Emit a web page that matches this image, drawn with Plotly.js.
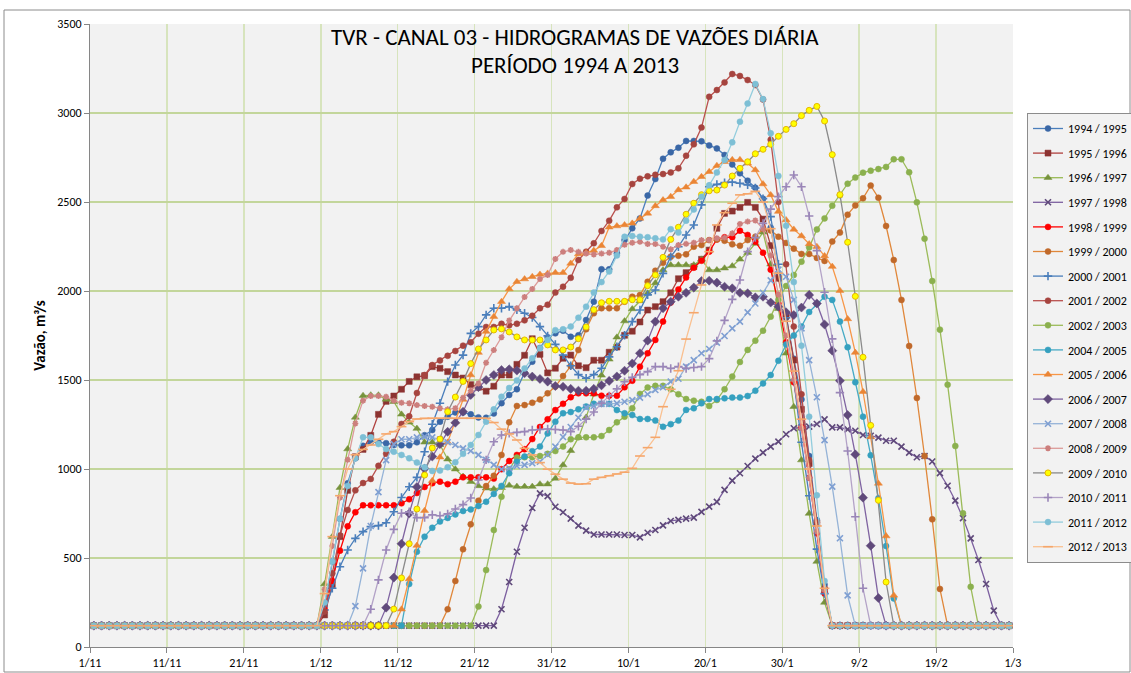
<!DOCTYPE html>
<html><head><meta charset="utf-8">
<script src="https://cdn.plot.ly/plotly-3.0.1.min.js"></script>
<style>html,body{margin:0;padding:0;background:#fff}#chart{width:1131px;height:673px}</style>
</head><body><div id="chart"></div>
<script>
const seriesNames = ['1994 / 1995','1995 / 1996','1996 / 1997','1997 / 1998','1998 / 1999','1999 / 2000','2000 / 2001','2001 / 2002','2002 / 2003','2004 / 2005','2005 / 2006','2006 / 2007','2007 / 2008','2008 / 2009','2009 / 2010','2010 / 2011','2011 / 2012','2012 / 2013'];
const tickLabels = ['1/11','11/11','21/11','1/12','11/12','21/12','31/12','10/1','20/1','30/1','9/2','19/2','1/3'];
const titleLines = ['TVR - CANAL 03 - HIDROGRAMAS DE VAZÕES DIÁRIA','PERÍODO 1994 A 2013'];

const q1994 = [120,120,120,120,120,120,120,120,120,120,120,120,120,120,120,120,120,120,120,120,120,120,120,120,120,120,120,120,120,120,
230,480,720,920,1060,1130,1150,1150,1145,1135,
1133,1133,1150,1190,1219,1266,1294,1318,1318,1307,
1290,1288,1312,1370,1416,1448,1541,1603,1680,1740,
1762,1777,1743,1751,1837,1940,2122,2122,2212,2286,
2352,2408,2536,2629,2743,2779,2805,2843,2843,2841,
2818,2801,2764,2711,2661,2620,2580,2518,2356,2100,
1850,1620,1391,1073,713,350,120,120,120,120,
120,120,120,120,120,120,120,120,120,120,
120,120,120,120,120,120,120,120,120,120];
const q1995 = [120,120,120,120,120,120,120,120,120,120,120,120,120,120,120,120,120,120,120,120,120,120,120,120,120,120,120,120,120,120,
180,350,620,880,1069,1110,1189,1307,1380,1410,
1448,1492,1518,1524,1575,1566,1547,1528,1511,1474,
1459,1437,1465,1528,1528,1588,1639,1732,1644,1540,
1566,1622,1640,1580,1569,1611,1611,1656,1685,1751,
1774,1826,1893,1912,1940,1990,2069,2103,2137,2178,
2230,2352,2436,2449,2470,2498,2470,2404,2255,2071,
1860,1612,1335,1030,695,320,120,120,120,120,
120,120,120,120,120,120,120,120,120,120,
120,120,120,120,120,120,120,120,120,120];
const q1996 = [120,120,120,120,120,120,120,120,120,120,120,120,120,120,120,120,120,120,120,120,120,120,120,120,120,120,120,120,120,120,
354,620,895,1112,1290,1412,1415,1415,1391,1378,
1307,1262,1227,1150,1150,1136,1055,999,958,929,
905,892,888,895,908,901,901,901,915,915,
947,1022,1103,1176,1290,1420,1526,1616,1740,1831,
1899,1944,1987,2045,2118,2146,2146,2146,2146,2178,
2118,2118,2128,2140,2178,2215,2267,2330,2150,1900,
1650,1350,1050,750,480,250,120,120,120,120,
120,120,120,120,120,120,120,120,120,120,
120,120,120,120,120,120,120,120,120,120];
const q1997 = [120,120,120,120,120,120,120,120,120,120,120,120,120,120,120,120,120,120,120,120,120,120,120,120,120,120,120,120,120,120,
120,120,120,120,120,120,120,120,120,120,
120,120,120,120,120,120,120,120,120,120,
120,120,120,212,365,535,670,781,863,848,
788,757,721,682,654,632,632,632,632,629,
629,616,642,657,683,708,714,721,727,759,
789,815,883,935,976,1017,1058,1092,1126,1154,
1195,1229,1234,1238,1253,1279,1234,1234,1223,1215,
1191,1187,1176,1159,1159,1126,1092,1066,1073,1042,
977,906,822,724,610,489,354,204,120,120];
const q1998 = [120,120,120,120,120,120,120,120,120,120,120,120,120,120,120,120,120,120,120,120,120,120,120,120,120,120,120,120,120,120,
212,371,541,678,757,796,796,796,796,796,
807,830,865,899,920,929,915,929,953,953,
953,953,946,999,1045,1079,1111,1168,1236,1279,
1331,1366,1403,1425,1425,1425,1412,1412,1412,1459,
1496,1575,1650,1725,1828,1935,2009,2076,2131,2170,
2221,2290,2302,2302,2339,2315,2277,2215,2120,1930,
1712,1487,1234,951,639,301,120,120,120,120,
120,120,120,120,120,120,120,120,120,120,
120,120,120,120,120,120,120,120,120,120];
const q1999 = [120,120,120,120,120,120,120,120,120,120,120,120,120,120,120,120,120,120,120,120,120,120,120,120,120,120,120,120,120,120,
120,120,120,120,120,120,120,120,120,120,
120,120,120,120,120,120,212,371,549,689,
822,904,962,1079,1262,1354,1359,1372,1391,1425,
1463,1522,1578,1668,1785,1875,1903,1903,1903,1940,
1968,1977,2052,2114,2159,2193,2198,2206,2249,2258,
2286,2290,2282,2262,2254,2286,2305,2349,2340,2305,
2270,2238,2208,2208,2186,2169,2278,2328,2429,2481,
2521,2592,2524,2365,2174,1950,1691,1399,1073,717,
326,120,120,120,120,120,120,120,120,120];
const q2000 = [120,120,120,120,120,120,120,120,120,120,120,120,120,120,120,120,120,120,120,120,120,120,120,120,120,120,120,120,120,120,
208,330,451,545,610,648,676,682,698,760,
840,900,953,1097,1251,1369,1491,1584,1640,1762,
1800,1866,1903,1903,1912,1894,1875,1851,1800,1748,
1700,1640,1580,1530,1510,1530,1566,1630,1687,1751,
1828,1893,1978,2006,2099,2193,2249,2315,2371,2484,
2586,2599,2609,2612,2605,2596,2579,2519,2418,2150,
1850,1500,1150,850,550,300,120,120,120,120,
120,120,120,120,120,120,120,120,120,120,
120,120,120,120,120,120,120,120,120,120];
const q2001 = [120,120,120,120,120,120,120,120,120,120,120,120,120,120,120,120,120,120,120,120,120,120,120,120,120,120,120,120,120,120,
200,414,627,770,880,921,944,1018,1086,1153,
1253,1296,1427,1528,1584,1610,1636,1663,1693,1712,
1760,1798,1798,1816,1807,1816,1835,1861,1903,1923,
1991,2024,2074,2174,2221,2268,2337,2395,2470,2517,
2601,2631,2644,2653,2657,2666,2689,2760,2824,2918,
3091,3129,3172,3219,3208,3185,3157,3076,2850,2500,
2150,1800,1420,1050,700,330,120,120,120,120,
120,120,120,120,120,120,120,120,120,120,
120,120,120,120,120,120,120,120,120,120];
const q2002 = [120,120,120,120,120,120,120,120,120,120,120,120,120,120,120,120,120,120,120,120,120,120,120,120,120,120,120,120,120,120,
120,120,120,120,120,120,120,120,120,120,
120,120,120,120,120,120,120,120,120,120,
227,432,657,844,998,1064,1066,1066,1073,1085,
1101,1126,1167,1178,1178,1178,1185,1219,1262,1294,
1341,1422,1458,1467,1467,1448,1420,1393,1384,1378,
1354,1388,1448,1519,1601,1669,1721,1777,1856,1950,
2028,2090,2165,2245,2346,2408,2479,2538,2603,2637,
2665,2676,2685,2697,2740,2740,2667,2498,2294,2056,
1783,1474,1129,751,338,120,120,120,120,120];
const q2004 = [120,120,120,120,120,120,120,120,120,120,120,120,120,120,120,120,120,120,120,120,120,120,120,120,120,120,120,120,120,120,
120,120,120,120,120,120,120,120,120,120,
120,354,535,620,670,705,725,745,764,773,
792,816,860,905,976,1041,1070,1100,1126,1200,
1266,1313,1320,1335,1351,1366,1366,1366,1331,1313,
1303,1281,1281,1272,1237,1252,1272,1332,1341,1369,
1393,1393,1397,1401,1401,1410,1440,1481,1528,1608,
1700,1750,1800,1882,1927,1968,1950,1828,1684,1487,
1294,1077,835,567,273,120,120,120,120,120,
120,120,120,120,120,120,120,120,120,120];
const q2005 = [120,120,120,120,120,120,120,120,120,120,120,120,120,120,120,120,120,120,120,120,120,120,120,120,120,120,120,120,120,120,
120,120,120,120,120,120,120,120,120,120,
212,382,570,766,934,1066,1150,1266,1390,1528,
1654,1772,1856,1940,2011,2052,2067,2080,2093,2099,
2103,2103,2155,2208,2215,2227,2254,2358,2365,2371,
2380,2408,2436,2478,2511,2530,2568,2583,2614,2642,
2670,2704,2726,2737,2737,2717,2680,2601,2540,2446,
2399,2346,2309,2264,2249,2197,2137,2002,1843,1654,
1434,1180,919,623,290,120,120,120,120,120,
120,120,120,120,120,120,120,120,120,120];
const q2006 = [120,120,120,120,120,120,120,120,120,120,120,120,120,120,120,120,120,120,120,120,120,120,120,120,120,120,120,120,120,120,
120,120,120,120,120,120,120,120,221,390,
580,750,899,1002,1070,1140,1209,1260,1322,1416,
1460,1500,1528,1556,1560,1553,1538,1519,1506,1491,
1466,1462,1450,1440,1440,1450,1470,1495,1520,1552,
1593,1650,1721,1828,1903,1940,1968,1990,2019,2056,
2058,2047,2024,2015,1990,1987,1964,1968,1935,1912,
1880,1865,1907,1978,1930,1812,1665,1496,1303,1082,
839,569,275,120,120,120,120,120,120,120,
120,120,120,120,120,120,120,120,120,120];
const q2007 = [120,120,120,120,120,120,120,120,120,120,120,120,120,120,120,120,120,120,120,120,120,120,120,120,120,120,120,120,120,120,
120,120,120,120,230,442,680,870,1050,1140,
1167,1167,1178,1182,1178,1165,1150,1135,1116,1101,
1079,1051,1023,999,1004,1017,1023,1032,1041,1080,
1126,1180,1236,1288,1346,1354,1366,1366,1369,1378,
1387,1401,1420,1444,1459,1491,1507,1575,1612,1650,
1674,1710,1747,1790,1828,1880,1930,1990,2060,2120,
2080,1950,1790,1612,1403,1162,901,611,290,120,
120,120,120,120,120,120,120,120,120,120,
120,120,120,120,120,120,120,120,120,120];
const q2008 = [120,120,120,120,120,120,120,120,120,120,120,120,120,120,120,120,120,120,120,120,120,120,120,120,120,120,120,120,120,120,
324,567,839,1052,1256,1384,1410,1410,1406,1384,
1372,1369,1359,1354,1350,1341,1335,1341,1400,1440,
1480,1597,1668,1740,1834,1903,1966,2011,2067,2090,
2180,2220,2230,2220,2210,2205,2210,2215,2230,2260,
2271,2277,2264,2264,2249,2234,2258,2265,2271,2286,
2286,2296,2300,2324,2377,2390,2396,2350,2200,1980,
1750,1500,1230,950,650,320,120,120,120,120,
120,120,120,120,120,120,120,120,120,120,
120,120,120,120,120,120,120,120,120,120];
const q2009 = [120,120,120,120,120,120,120,120,120,120,120,120,120,120,120,120,120,120,120,120,120,120,120,120,120,120,120,120,120,120,
120,120,120,120,120,120,120,120,120,213,
388,580,775,966,1118,1168,1322,1404,1492,1592,
1674,1725,1781,1787,1770,1742,1725,1725,1725,1697,
1669,1669,1685,1732,1798,1895,1934,1942,1942,1942,
1951,1951,2030,2090,2189,2290,2358,2431,2493,2541,
2563,2567,2595,2646,2689,2726,2771,2796,2824,2869,
2908,2940,2985,3015,3037,2955,2766,2541,2274,1970,
1628,1245,824,365,120,120,120,120,120,120,
120,120,120,120,120,120,120,120,120,120];
const q2010 = [120,120,120,120,120,120,120,120,120,120,120,120,120,120,120,120,120,120,120,120,120,120,120,120,120,120,120,120,120,120,
120,120,120,120,120,120,212,377,545,661,
751,760,727,727,743,737,748,775,800,837,
938,1051,1153,1191,1200,1206,1210,1219,1222,1225,
1222,1219,1210,1240,1280,1320,1370,1410,1450,1490,
1515,1530,1547,1575,1575,1565,1575,1565,1570,1575,
1620,1720,1835,1953,2062,2221,2300,2380,2460,2530,
2586,2652,2586,2421,2227,1993,1731,1429,1101,732,
330,120,120,120,120,120,120,120,120,120,
120,120,120,120,120,120,120,120,120,120];
const q2011 = [120,120,120,120,120,120,120,120,120,120,120,120,120,120,120,120,120,120,120,120,120,120,120,120,120,120,120,120,120,120,
250,480,720,905,1060,1178,1178,1140,1112,1097,
1079,1060,1036,1010,989,991,1010,1038,1085,1135,
1191,1266,1335,1406,1455,1497,1565,1622,1678,1725,
1780,1785,1800,1850,1912,1991,2050,2110,2200,2305,
2309,2305,2302,2296,2290,2347,2328,2395,2458,2530,
2594,2666,2736,2835,2951,3053,3163,3078,2886,2646,
2367,2050,1693,1294,852,371,120,120,120,120,
120,120,120,120,120,120,120,120,120,120,
120,120,120,120,120,120,120,120,120,120];
const q2012 = [120,120,120,120,120,120,120,120,120,120,120,120,120,120,120,120,120,120,120,120,120,120,120,120,120,120,120,120,120,120,
300,620,850,1000,1080,1110,1135,1167,1197,1210,
1238,1266,1281,1285,1285,1285,1285,1285,1285,1285,
1285,1285,1261,1224,1197,1163,1116,1079,1036,999,
971,943,921,915,917,943,953,962,972,982,
1004,1073,1120,1178,1350,1448,1552,1730,1878,2034,
2221,2371,2440,2493,2540,2546,2560,2500,2350,2100,
1830,1550,1280,1000,680,330,120,120,120,120,
120,120,120,120,120,120,120,120,120,120,
120,120,120,120,120,120,120,120,120,120];

const seriesValues = [q1994,q1995,q1996,q1997,q1998,q1999,q2000,q2001,q2002,q2004,q2005,q2006,q2007,q2008,q2009,q2010,q2011,q2012];

// styles (kept apart from data)
const styles = [
  {line:'#4a7ebb', mk:'#3a67a6', sym:'circle', size:6},
  {line:'#b0413e', mk:'#8c3331', sym:'square', size:6},
  {line:'#98b954', mk:'#77933c', sym:'triangle-up', size:7},
  {line:'#7d60a0', mk:'#5f497a', sym:'x-thin', size:6, thin:true},
  {line:'#ff0000', mk:'#ff0000', sym:'circle', size:6},
  {line:'#e0873a', mk:'#c0692a', sym:'circle', size:6},
  {line:'#4a7ebb', mk:'#4a7ebb', sym:'cross-thin', size:6, thin:true},
  {line:'#b9504d', mk:'#a6443f', sym:'circle', size:6},
  {line:'#9bbb59', mk:'#8bb04e', sym:'circle', size:6},
  {line:'#46aac5', mk:'#35a0bf', sym:'circle', size:6},
  {line:'#f79646', mk:'#ea8535', sym:'triangle-up', size:7},
  {line:'#7f63a1', mk:'#604a7b', sym:'diamond', size:7},
  {line:'#95b3d7', mk:'#7f9fd2', sym:'x-thin', size:6, thin:true},
  {line:'#dc9a98', mk:'#cc7f7d', sym:'asterisk', size:5, thin:true},
  {line:'#8a8a8a', mk:'#ffff00', sym:'circle', size:6, edge:'#e6b800'},
  {line:'#b3a2c7', mk:'#9a86b8', sym:'cross-thin', size:6, thin:true},
  {line:'#93cddd', mk:'#7dbfd5', sym:'circle', size:6},
  {line:'#fac090', mk:'#f5a66b', sym:'line-ew', size:7, thin:true}
];

const DAY = 86400000;
const startMs = Date.UTC(2014, 10, 1);
function iso(ms){ const s = new Date(ms).toISOString(); return s.slice(0,10)+' '+s.slice(11,16); }
const days = q1994.map((_, i) => iso(startMs + i*DAY + DAY/2));
const tickVals = tickLabels.map((_, k) => iso(startMs + k*10*DAY));

const traces = seriesValues.map((vals, i) => {
  const st = styles[i];
  return {
    type:'scatter', mode:'lines+markers', name: seriesNames[i],
    x: days, y: vals, legendgroup:'g'+i,
    line:{color:st.line, width:1.3},
    marker:{symbol:st.sym, size:st.size, color:st.mk,
      line:{color: st.edge || st.mk, width: st.thin ? 1.6 : (st.edge ? 1 : 0.5)}}
  };
});

const bad = seriesValues.map((v,i)=>v.length!==120 ? seriesNames[i]+':'+v.length : null).filter(Boolean);

const fontFam = 'Carlito, "Liberation Sans Narrow", "Liberation Sans", Arial, sans-serif';
const annotations = titleLines.map((t, k) => ({
  text: t, xref:'paper', yref:'paper', x:(575-90)/923, y:(647-(37+28*k))/623,
  xanchor:'center', yanchor:'middle', showarrow:false,
  font:{family:fontFam, size:23, color:'#000'}
}));
if (bad.length) annotations.push({text:'LEN '+bad.join(','), xref:'paper', yref:'paper', x:0.5, y:0.5, showarrow:false, font:{size:20,color:'red'}});

const layout = {
  width:1131, height:673,
  margin:{l:90, r:118, t:24, b:26},
  paper_bgcolor:'#ffffff', plot_bgcolor:'#f2f2f2',
  font:{family:fontFam, color:'#000', size:12},
  showlegend:true,
  xaxis:{type:'date', range:[iso(startMs), iso(startMs+120*DAY)],
    tickmode:'array', tickvals:tickVals, ticktext:tickLabels,
    showgrid:true, gridcolor:'#d7e4bd', gridwidth:1.5,
    ticks:'outside', ticklen:5, tickcolor:'#868686',
    showline:true, linecolor:'#868686', linewidth:1, zeroline:false,
    tickfont:{family:fontFam, size:12, color:'#000'}},
  yaxis:{range:[0,3500], tick0:0, dtick:500,
    showgrid:true, gridcolor:'#c3d69b', gridwidth:1.3,
    ticks:'outside', ticklen:5, tickcolor:'#868686',
    showline:true, linecolor:'#868686', linewidth:1, zeroline:false,
    tickfont:{family:fontFam, size:12, color:'#000'},
    title:{text:'Vazão, m³/s', font:{family:fontFam, size:15, color:'#000', weight:'bold'}, standoff:8}},
  legend:{xref:'container', yref:'container', x:1027/1131, y:1-113/673,
    xanchor:'left', yanchor:'top', bgcolor:'#f2f2f2', bordercolor:'#8c8c8c', borderwidth:1,
    font:{family:fontFam, size:12, color:'#000'}, tracegroupgap:5.6, itemwidth:30, maxheight:600},
  shapes:[{type:'rect', xref:'paper', yref:'paper',
    x0:(4-90)/923, x1:(1130-90)/923, y0:(647-672)/623, y1:1+(24-10)/623,
    line:{color:'#8c8c8c', width:1}, fillcolor:'rgba(0,0,0,0)', layer:'below'}],
  annotations: annotations
};

Plotly.newPlot('chart', traces, layout, {displayModeBar:false, staticPlot:true});
</script></body></html>
